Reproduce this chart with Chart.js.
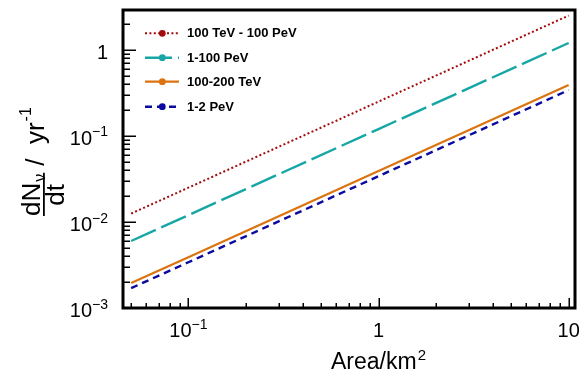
<!DOCTYPE html>
<html>
<head>
<meta charset="utf-8">
<script src="https://cdn.jsdelivr.net/npm/chart.js@4.4.1/dist/chart.umd.min.js"></script>
<style>
  html, body { margin: 0; padding: 0; background: #ffffff; }
  #wrap { width: 579px; height: 372px; }
</style>
</head>
<body>
<div id="wrap"><canvas id="c" width="579" height="372"></canvas></div>
<script>
// Detector area (km^2) and expected event rates (per year)
const areas      = [0.05, 0.1, 1, 10];
const rateWide   = [0.0125, 0.025, 0.25, 2.5];     // 100 TeV - 100 PeV
const ratePeV100 = [0.006, 0.012, 0.12, 1.2];      // 1-100 PeV
const rateTeV200 = [0.00195, 0.0039, 0.039, 0.39]; // 100-200 TeV
const ratePeV2   = [0.0017, 0.0034, 0.034, 0.34];  // 1-2 PeV
const seriesNames = ["100 TeV - 100 PeV", "1-100 PeV", "100-200 TeV", "1-2 PeV"];

// Axis ranges and labelled decades
const xRange = [0.0453, 10.8];
const yRange = [0.001, 2.9];
const xTickValues = [0.1, 1, 10];
const xTickLabels = ["10^-1", "1", "10"];
const yTickValues = [0.001, 0.01, 0.1, 1];
const yTickLabels = ["10^-3", "10^-2", "10^-1", "1"];

const FONT = '"Liberation Sans", Arial, Helvetica, sans-serif';

function pts(ys) { return areas.map((a, i) => ({ x: a, y: ys[i] })); }

// all 1..9 x 10^n values inside a range, for the tick marks
function decadeTicks(lo, hi) {
  const out = [];
  for (let e = Math.floor(Math.log10(lo)); e <= Math.ceil(Math.log10(hi)); e++) {
    for (let m = 1; m <= 9; m++) {
      const v = m * Math.pow(10, e);
      if (v >= lo * 0.9999 && v <= hi * 1.0001) out.push({ v, major: m === 1 });
    }
  }
  return out;
}

// draw "10^-1" style text: base plus raised exponent; align is 'center' or 'right'
function drawPower(ctx, label, x, baseline, align, size) {
  const parts = label.split("^");
  const base = parts[0];
  const exp = parts[1] ? parts[1].replace("-", "\u2212") : null;
  const supSize = Math.round(size * 0.68);
  ctx.font = size + "px " + FONT;
  const wb = ctx.measureText(base).width;
  let we = 0;
  if (exp) { ctx.font = supSize + "px " + FONT; we = ctx.measureText(exp).width; }
  const total = wb + we;
  let x0 = align === "right" ? x - total : x - total / 2;
  ctx.textAlign = "left";
  ctx.textBaseline = "alphabetic";
  ctx.font = size + "px " + FONT;
  ctx.fillText(base, x0, baseline);
  if (exp) {
    ctx.font = supSize + "px " + FONT;
    ctx.fillText(exp, x0 + wb, baseline - size * 0.42);
  }
}

const decorPlugin = {
  id: "decor",
  afterDraw(chart) {
    const ctx = chart.ctx;
    const a = chart.chartArea;
    const xs = chart.scales.x, ys = chart.scales.y;
    ctx.save();
    ctx.fillStyle = "#000";
    ctx.strokeStyle = "#000";

    // tick marks pointing into the frame
    ctx.lineWidth = 1.5;
    ctx.beginPath();
    decadeTicks(xRange[0], xRange[1]).forEach(t => {
      const px = Math.round(xs.getPixelForValue(t.v)) + 0.25;
      const len = t.major ? 10 : 5;
      ctx.moveTo(px, a.bottom);
      ctx.lineTo(px, a.bottom - len);
    });
    decadeTicks(yRange[0], yRange[1]).forEach(t => {
      const py = Math.round(ys.getPixelForValue(t.v)) + 0.25;
      const len = t.major ? 13 : 7;
      ctx.moveTo(a.left, py);
      ctx.lineTo(a.left + len, py);
    });
    ctx.stroke();

    // frame
    ctx.lineWidth = 3;
    ctx.strokeRect(a.left, a.top, a.right - a.left, a.bottom - a.top);

    // tick labels
    xTickValues.forEach((v, i) => {
      drawPower(ctx, xTickLabels[i], xs.getPixelForValue(v), 337, "center", 20);
    });
    yTickValues.forEach((v, i) => {
      drawPower(ctx, yTickLabels[i], 108, ys.getPixelForValue(v) + 9, "right", 20);
    });

    // x-axis title
    ctx.font = "23px " + FONT;
    ctx.textAlign = "left";
    ctx.textBaseline = "alphabetic";
    const xt = "Area/km";
    const wx = ctx.measureText(xt).width;
    const xt0 = 331;
    ctx.fillText(xt, xt0, 369);
    ctx.font = "15px " + FONT;
    ctx.fillText("2", xt0 + wx + 1, 360);

    // y-axis title: fraction dN_nu / dt, then "/ yr^-1", rotated
    ctx.save();
    ctx.rotate(-Math.PI / 2);
    // rotated frame: first coordinate = -screenY, second = screenX
    const big = 26, small = 16;
    const u0 = -216;
    ctx.font = big + "px " + FONT;
    const wdN = ctx.measureText("dN").width;
    ctx.font = small + "px " + FONT;
    const wnu = ctx.measureText("\u03bd").width;
    const numW = wdN + wnu + 1;
    ctx.font = big + "px " + FONT;
    ctx.fillText("dN", u0, 40);
    ctx.font = small + "px " + FONT;
    ctx.fillText("\u03bd", u0 + wdN + 1, 45);
    // fraction bar
    ctx.fillRect(u0, 43, numW + 1, 1.8);
    // denominator
    ctx.font = big + "px " + FONT;
    const wdt = ctx.measureText("dt").width;
    ctx.fillText("dt", u0 + (numW - wdt) / 2, 64);
    // rest of unit
    const u1 = u0 + numW + 8;
    ctx.fillText("/  yr", u1, 44);
    const wyr = ctx.measureText("/  yr").width;
    ctx.font = small + "px " + FONT;
    ctx.fillText("-1", u1 + wyr + 1, 31);
    ctx.restore();

    // legend
    const rows = [33.3, 57.7, 81.7, 106.7];
    chart.data.datasets.forEach((ds, i) => {
      const y = rows[i];
      ctx.save();
      ctx.strokeStyle = ds.borderColor;
      ctx.lineWidth = ds.borderWidth;
      ctx.setLineDash(ds.borderDash || []);
      ctx.beginPath();
      ctx.moveTo(145, y);
      ctx.lineTo(179, y);
      ctx.stroke();
      ctx.setLineDash([]);
      ctx.fillStyle = ds.borderColor;
      ctx.beginPath();
      ctx.arc(162.3, y, 3.4, 0, Math.PI * 2);
      ctx.fill();
      ctx.restore();
      ctx.font = "bold 13px " + FONT;
      ctx.textAlign = "left";
      ctx.textBaseline = "middle";
      ctx.fillStyle = "#000";
      ctx.fillText(ds.label, 187, y + 0.5);
    });
    ctx.restore();
  }
};

new Chart(document.getElementById("c"), {
  type: "line",
  data: {
    datasets: [
      { label: seriesNames[0], data: pts(rateWide), borderColor: "#a30a0a", borderWidth: 2, borderDash: [2, 2.4] },
      { label: seriesNames[1], data: pts(ratePeV100), borderColor: "#16a6a6", borderWidth: 2.4, borderDash: [27, 6] },
      { label: seriesNames[2], data: pts(rateTeV200), borderColor: "#db7410", borderWidth: 2.2 },
      { label: seriesNames[3], data: pts(ratePeV2), borderColor: "#0a0aa0", borderWidth: 2.4, borderDash: [7, 5] }
    ]
  },
  options: {
    responsive: false,
    animation: false,
    events: [],
    layout: { padding: { left: 123, right: 4, top: 10, bottom: 64 } },
    elements: { point: { radius: 0 }, line: { tension: 0, borderCapStyle: "butt" } },
    plugins: { legend: { display: false }, tooltip: { enabled: false } },
    scales: {
      x: { type: "logarithmic", min: xRange[0], max: xRange[1], display: false },
      y: { type: "logarithmic", min: yRange[0], max: yRange[1], display: false }
    }
  },
  plugins: [decorPlugin]
});
</script>
</body>
</html>
